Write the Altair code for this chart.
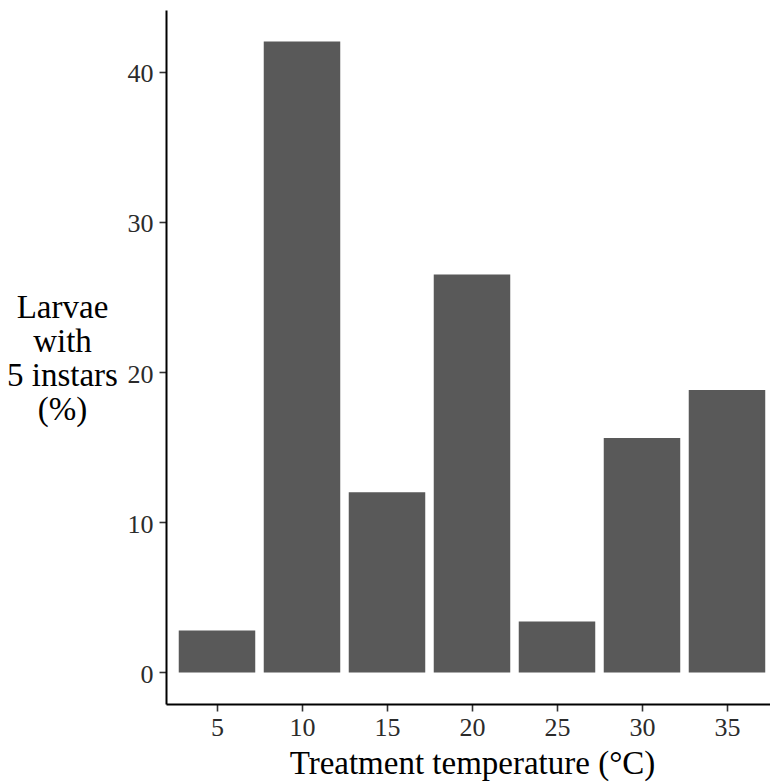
import altair as alt
import pandas as pd

temps = [5, 10, 15, 20, 25, 30, 35]
pct = [2.8, 42.0, 12.0, 26.5, 3.4, 15.6, 18.8]
y_ticks = [0, 10, 20, 30, 40]
y_title = ["Larvae", "with", "5 instars", "(%)"]
x_title = "Treatment temperature (°C)"

df = pd.DataFrame({"temp": temps, "pct": pct, "pos": list(range(1, len(temps) + 1))})

label_expr = "[" + ",".join("'%s'" % t for t in temps) + "][datum.value - 1]"

FONT = "Liberation Serif"

bars = (
    alt.Chart(df)
    .transform_calculate(lo="datum.pos - 0.45", hi="datum.pos + 0.45")
    .mark_rect(color="#595959")
    .encode(
        x=alt.X(
            "lo:Q",
            scale=alt.Scale(domain=[0.4, 7.506], nice=False, zero=False),
            axis=alt.Axis(
                values=list(range(1, len(temps) + 1)),
                labelExpr=label_expr,
                title=x_title,
                titleX=306,
                titleY=69,
                titleAlign="center",
                titleBaseline="alphabetic",
                labelBaseline="alphabetic",
                labelPadding=24,
                labelFlush=False,
                labelOverlap=False,
            ),
        ),
        x2="hi:Q",
        y=alt.Y(
            "pct:Q",
            scale=alt.Scale(domain=[-2.1, 44.1], nice=False, zero=False),
            axis=alt.Axis(
                values=y_ticks,
                title=y_title,
                titleAngle=0,
                titleX=-104,
                titleY=307,
                titleAlign="center",
                titleBaseline="alphabetic",
                titleLineHeight=34.3,
                labelBaseline="alphabetic",
                labelOffset=10,
                labelPadding=6,
                labelFlush=False,
            ),
        ),
        y2=alt.datum(0),
    )
)

chart = (
    bars.properties(
        width=604,
        height=694,
        autosize=alt.AutoSizeParams(type="none"),
        padding={"left": 166, "top": 10, "right": 0, "bottom": 78},
        background="white",
    )
    .configure_view(stroke=None)
    .configure_axis(
        grid=False,
        domainColor="black",
        domainWidth=2,
        tickColor="#333333",
        tickWidth=1.6,
        tickSize=7,
        labelFont=FONT,
        labelFontSize=26,
        labelColor="#2b2b2b",
        titleFont=FONT,
        titleFontSize=33,
        titleFontWeight="normal",
        titleColor="black",
    )
)

chart.save("out.html", embed_options={"renderer": "svg", "actions": False})
